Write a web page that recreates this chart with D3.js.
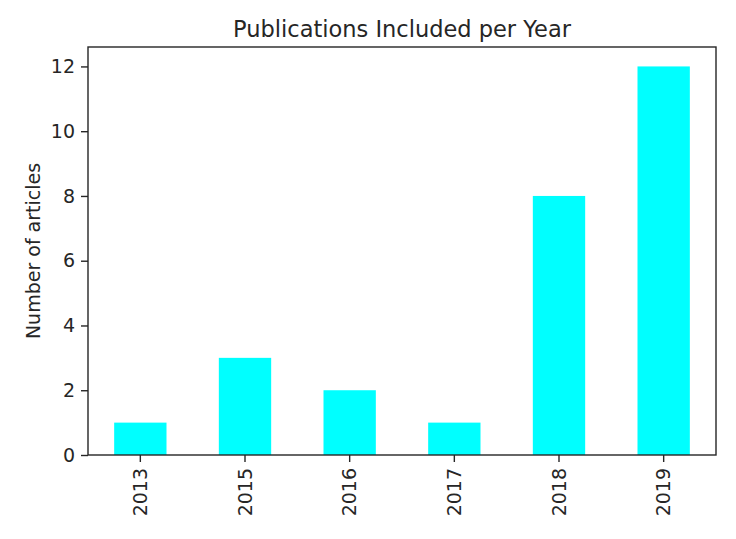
<!DOCTYPE html>
<html>
<head>
<meta charset="utf-8">
<script src="https://cdn.jsdelivr.net/npm/d3@7"></script>
<style>
  body { margin: 0; background: #fff; }
  text { font-family: "DejaVu Sans", sans-serif; fill: #262626; }
</style>
</head>
<body>
<div id="chart"></div>
<script>
const years = ['2013', '2015', '2016', '2017', '2018', '2019'];
const articles = [1, 3, 2, 1, 8, 12];
const yTicks = [0, 2, 4, 6, 8, 10, 12];

const width = 736, height = 539;
const margin = { top: 47, right: 20, bottom: 84, left: 88 };
const innerW = width - margin.left - margin.right;
const innerH = height - margin.top - margin.bottom;

const svg = d3.select('#chart')
  .append('svg')
  .attr('width', width)
  .attr('height', height);

const g = svg.append('g')
  .attr('transform', `translate(${margin.left}, ${margin.top})`);

const x = d3.scaleBand()
  .domain(years)
  .range([0, innerW])
  .paddingInner(0.5)
  .paddingOuter(0.25);

const y = d3.scaleLinear()
  .domain([0, d3.max(articles) * 1.05])
  .range([innerH, 0]);

// bars
g.selectAll('.bar')
  .data(years)
  .enter()
  .append('rect')
  .attr('class', 'bar')
  .attr('x', (d) => x(d))
  .attr('y', (d, i) => y(articles[i]))
  .attr('width', x.bandwidth())
  .attr('height', (d, i) => innerH - y(articles[i]))
  .style('fill', '#00ffff');

// y axis
const yAxis = g.append('g')
  .call(d3.axisLeft(y).tickValues(yTicks).tickSize(7).tickPadding(6));
yAxis.select('.domain').remove();
yAxis.selectAll('text').style('font-size', '19px');
yAxis.selectAll('line').style('stroke', '#262626').style('stroke-width', 1.4);

// x axis
const xAxis = g.append('g')
  .attr('transform', `translate(0, ${innerH})`)
  .call(d3.axisBottom(x).tickSize(7).tickPadding(6));
xAxis.select('.domain').remove();
xAxis.selectAll('line').style('stroke', '#262626').style('stroke-width', 1.4);
xAxis.selectAll('text')
  .style('font-size', '19px')
  .attr('text-anchor', 'end')
  .attr('dy', '0.35em')
  .attr('transform', 'translate(0, 13) rotate(-90)')
  .attr('x', 0)
  .attr('y', 0);

// frame
g.append('rect')
  .attr('width', innerW)
  .attr('height', innerH)
  .style('fill', 'none')
  .style('stroke', '#262626')
  .style('stroke-width', 1.4);

// title
svg.append('text')
  .attr('x', margin.left + innerW / 2)
  .attr('y', 37)
  .attr('text-anchor', 'middle')
  .style('font-size', '22.5px')
  .text('Publications Included per Year');

// y label
svg.append('text')
  .attr('transform', `translate(40, ${margin.top + innerH / 2}) rotate(-90)`)
  .attr('text-anchor', 'middle')
  .style('font-size', '19px')
  .text('Number of articles');
</script>
</body>
</html>
